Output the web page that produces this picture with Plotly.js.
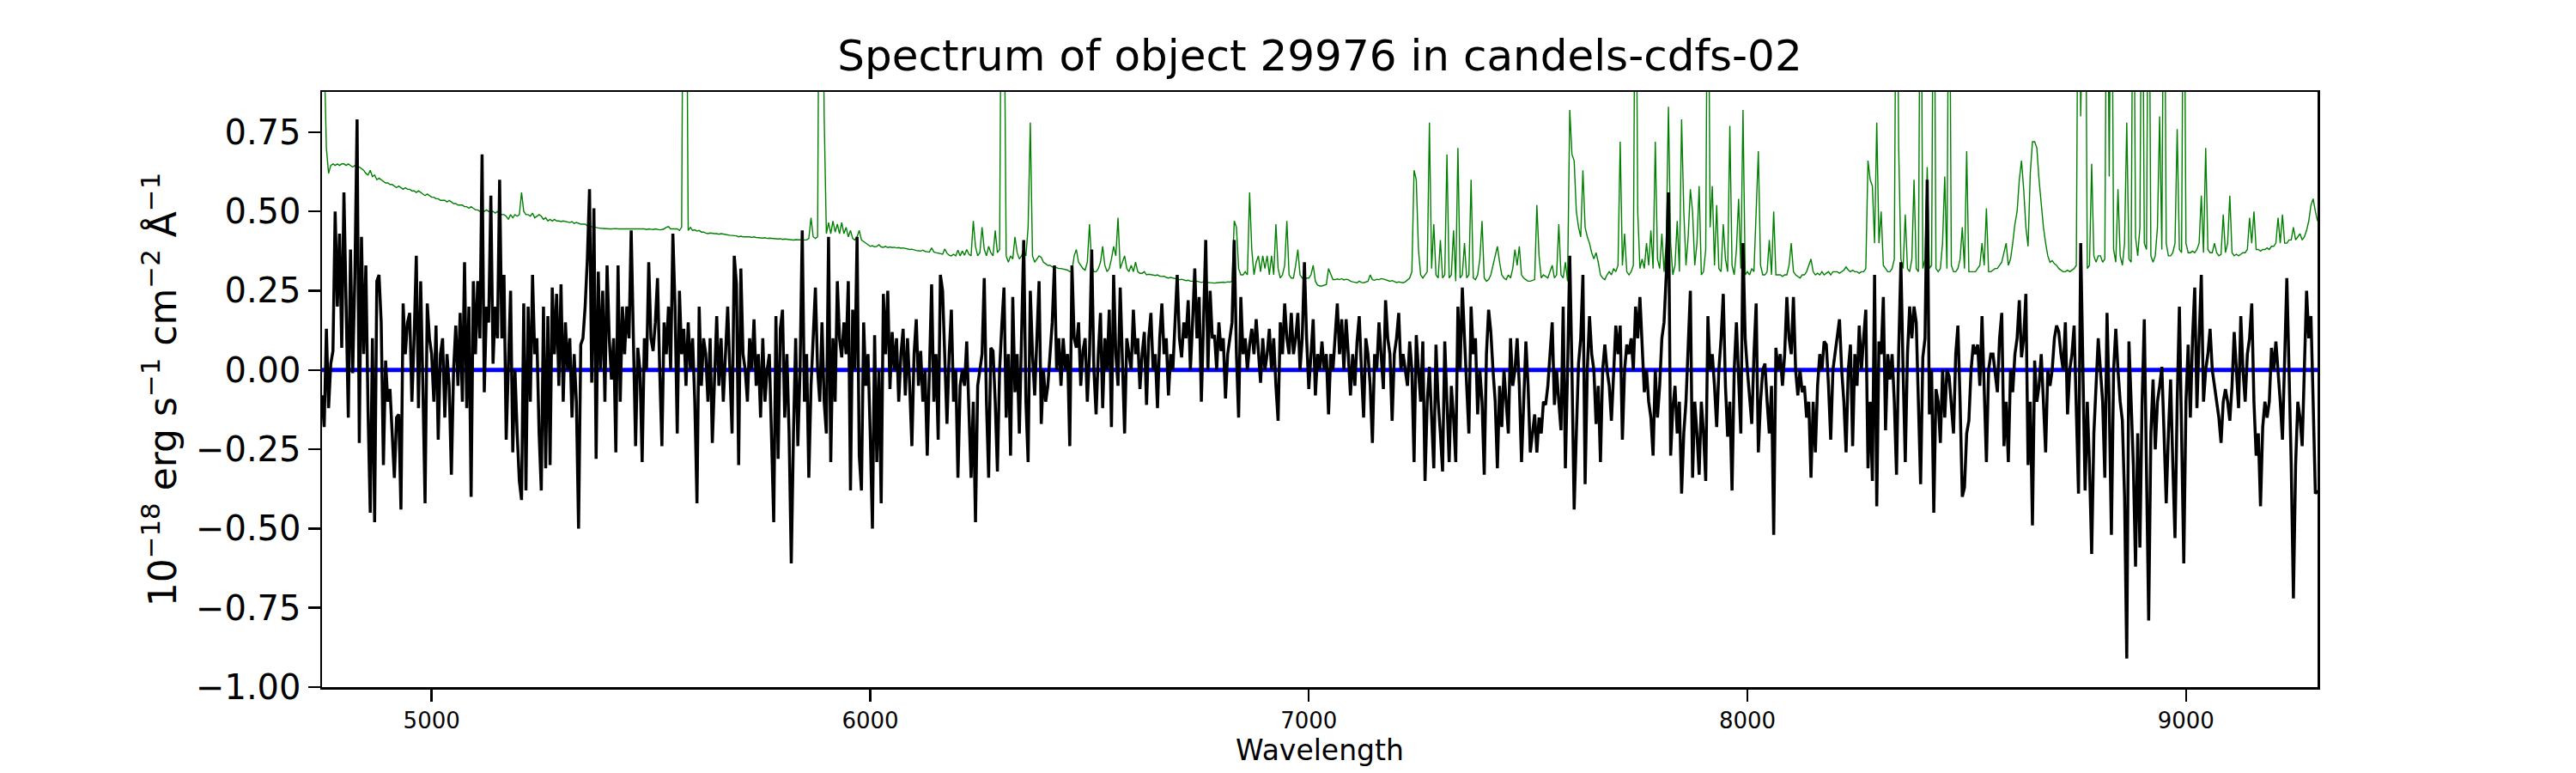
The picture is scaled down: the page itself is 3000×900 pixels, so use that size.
<!DOCTYPE html>
<html>
<head>
<meta charset="utf-8">
<script src="https://cdn.plot.ly/plotly-3.0.1.min.js"></script>
<style>html,body{margin:0;padding:0;background:#fff}</style>
</head>
<body>
<div id="spectrum" style="width:3000px;height:900px"></div>
<script>
// wavelength grid of the binned spectrum (Angstrom)
var wavelengthStart = 4750;
var wavelengthStep = 5;

// flux, 1e-18 erg/s/cm2/A, one row per 100 A
var flux = [
  -0.08,-0.18,0.13,-0.12,0.02,0.06,0.5,0.2,0.43,0.07,0.56,0.2,-0.15,0.38,-0.01,0.3,0.79,-0.23,0.42,0.05,
  0.33,-0.13,-0.45,0.1,-0.48,0.28,0.3,0.15,-0.3,0.03,-0.1,-0.06,-0.2,-0.34,-0.15,-0.14,-0.44,0.21,0.05,0.15,
  0.18,-0.1,0.1,0.36,-0.12,0.28,-0.05,-0.42,0.21,0.1,0.05,-0.1,0.14,-0.22,0.05,0.1,-0.15,0.05,-0.05,-0.33,
  0,0.14,-0.05,0.18,-0.1,0.34,-0.12,0.2,-0.4,0.28,0.05,0.28,0.1,0.68,-0.07,0.2,0.15,0.55,0.02,0.2,
  0.1,0.6,0.1,0.3,-0.22,0.05,0.25,-0.26,0,-0.2,-0.35,-0.41,0.21,-0.38,0.2,-0.1,0.3,0.05,0.1,-0.2,
  -0.38,0.2,-0.31,0.17,-0.3,0.26,0.05,0.24,-0.05,0.27,-0.1,0.15,0,0.1,-0.15,0.05,-0.1,-0.5,0.08,0.1,
  0.2,0.35,0.57,-0.04,0.51,-0.28,0.31,0,0.25,-0.1,0.33,0.1,-0.03,0.1,-0.26,0.33,-0.1,0.2,0.05,0.2,
  0.1,0.44,0.1,-0.24,0.07,0,-0.29,0.1,0,0.34,0.1,0.06,0.15,0.29,0,-0.24,0.15,0.05,0.2,0,
  0.43,0.2,-0.2,0.25,0.05,0.13,-0.05,0.15,0,0.1,-0.1,-0.42,0.2,-0.05,0.1,0.05,-0.1,0.1,-0.23,0,
  0.17,-0.05,0.1,-0.1,0.05,0.2,0,-0.2,0.36,0.27,-0.3,0.32,0.05,0,-0.1,0.1,0,0.16,-0.05,0.05,
  -0.15,0.1,-0.1,0,0.05,-0.2,-0.48,0.17,-0.28,0.13,0.19,-0.15,0.05,-0.2,-0.61,-0.2,0.1,-0.24,0,0.44,
  -0.1,0.05,-0.34,-0.05,0.1,0.26,0,-0.1,0.15,-0.1,-0.2,0.42,-0.29,0.1,-0.1,0.28,0.1,0.04,0.15,0.05,
  0.28,-0.38,0.19,0,0.42,-0.27,-0.38,0.15,-0.05,0.05,-0.2,-0.5,0.11,-0.29,0,-0.42,0.24,0.05,0.25,-0.06,
  0.12,0,0.1,-0.1,0.05,0.13,-0.08,0.1,-0.05,-0.24,0.05,0.16,-0.05,0.06,-0.1,0,-0.27,0.05,0.27,-0.1,
  0.05,-0.22,0.3,0.25,0,-0.17,0.05,0.19,-0.1,0,-0.34,-0.05,0,-0.05,0.09,-0.1,-0.34,-0.1,-0.48,-0.05,
  0,0.05,0.29,-0.1,-0.34,0.07,0.06,-0.1,-0.32,0,0.14,0.26,-0.15,0.05,-0.27,0.23,-0.07,0.05,-0.2,0.1,
  0.41,-0.1,-0.29,0.25,0.05,-0.08,0.1,0.28,-0.17,0,-0.1,-0.05,0.05,0.15,0.33,0,0.1,-0.05,0.1,0,
  0.05,-0.24,0.33,0.1,0.07,0.15,-0.05,0.06,0.1,-0.1,0.05,0.38,0,-0.14,0.05,0.18,-0.12,0.1,0,0.19,
  -0.18,0.3,0.05,-0.05,0.26,0,-0.2,0.1,0.05,0,0.19,0.05,0.1,-0.06,0.05,0.12,-0.11,0.1,0.18,0,
  0.05,-0.12,0.1,0.21,0.05,0.1,-0.08,0.05,0,0.15,0.3,0.1,0.04,0.15,0.1,0.22,0,0.15,0.32,0.1,
  0.23,-0.1,0.15,0.41,0,0.25,0.1,0.11,0,0.15,0.06,0.1,-0.09,0.05,0.1,0.15,0.41,0.05,-0.15,0.23,
  0.05,0.1,0,0.08,0.13,0.05,0.16,0.05,-0.04,0.1,0,0.05,0.13,0,0.1,-0.05,-0.16,0.15,0.05,0.21,
  0.1,0.05,0.18,0.05,0.1,0.18,0,0.1,0.34,0.1,-0.06,0.05,0.16,-0.08,0.05,0,0.09,0,0.05,-0.14,
  0.05,0,0.1,0.21,0.05,0.16,0,0.16,0.05,-0.08,0.05,-0.05,0.09,0.17,0,-0.15,0.1,0.05,-0.05,-0.23,
  0.05,0,0.15,0.05,-0.06,0.22,0.1,0.05,-0.16,0.05,0.1,0.18,0,0.05,0,-0.05,0.09,0,-0.29,0.11,
  0,-0.1,0.09,-0.35,-0.1,0.01,-0.15,-0.31,0.08,-0.1,-0.2,-0.32,0.09,-0.1,-0.29,-0.05,-0.15,-0.29,0.2,0,
  0.26,0.1,-0.05,-0.2,0.2,0.05,0.1,-0.14,0,-0.1,-0.33,0.05,0.19,0.12,0,-0.1,-0.31,-0.05,-0.18,0,
  -0.1,-0.2,0.1,-0.05,0,0.1,-0.05,-0.29,-0.1,0.09,-0.05,-0.26,-0.2,-0.14,-0.26,-0.15,-0.2,-0.1,-0.11,-0.05,
  0.05,0.15,-0.11,0,-0.1,-0.19,0.2,-0.31,0,0.36,0,-0.44,-0.2,0.02,0.1,0.3,-0.36,0,0.17,0.05,
  0,-0.17,-0.05,-0.29,0,0.08,0,-0.05,-0.16,0,0.14,0.05,0.14,-0.22,0,0.08,0.05,0.1,0,0.2,
  0.1,0.23,0.05,-0.07,0,-0.1,-0.15,-0.27,0,-0.15,-0.05,0.1,0.15,0.3,0.56,-0.27,-0.12,-0.05,-0.2,-0.1,
  -0.39,-0.2,-0.1,0.1,0.25,-0.34,-0.1,-0.2,-0.33,-0.1,-0.2,-0.35,0.17,0,0.05,-0.05,-0.18,0,0.1,0.24,
  -0.05,-0.21,-0.1,-0.38,0,0.15,0,-0.2,0.4,0.1,0,-0.1,-0.17,0.05,0.21,-0.26,-0.1,0,0.02,-0.1,
  -0.2,-0.05,-0.52,0.07,0,0.05,-0.05,0.05,0.23,0.1,0.05,0.23,0,-0.08,0,-0.07,-0.05,-0.15,-0.1,-0.34,
  -0.1,-0.26,-0.05,0.05,0,0.09,0.08,-0.05,-0.22,0,0.05,0.1,0.16,0,-0.1,-0.26,0,0.08,-0.24,0.05,
  -0.05,0.14,0,0.1,0.19,-0.31,-0.1,-0.35,0.3,-0.43,0.09,0.05,0.23,-0.19,0.05,-0.03,0.05,-0.1,-0.33,0.06,
  0.34,0,-0.29,0.05,0.2,0.1,0.2,0.15,-0.1,-0.36,0.04,0.1,0.6,-0.14,0,-0.45,-0.06,-0.1,-0.23,0,
  -0.15,0,-0.02,-0.1,-0.2,0.05,0.14,-0.1,-0.4,-0.37,-0.2,-0.16,0,0.08,0.05,0.08,-0.05,0.17,-0.05,-0.29,
  0,0.05,0.05,-0.02,-0.07,0.1,0.18,-0.24,-0.1,-0.29,0,-0.07,0.05,0.1,0.22,0.04,0.1,0.24,-0.3,-0.1,
  -0.49,0.03,-0.1,-0.05,0.05,-0.1,-0.26,0,-0.05,0,0.1,0.14,0.12,0.05,0,0.15,-0.14,0,0.05,0.14,
  -0.1,-0.39,0.4,0,-0.38,-0.1,-0.3,-0.58,-0.2,-0.05,0.1,0,-0.1,-0.34,0.18,-0.1,-0.52,0,0.13,0,
  -0.1,-0.16,-0.4,-0.91,0.09,-0.1,-0.3,-0.62,-0.2,-0.56,-0.1,0.16,-0.3,-0.79,-0.2,-0.03,-0.25,-0.1,-0.05,0.01,
  -0.2,-0.42,-0.2,-0.03,-0.3,-0.53,-0.1,0.2,-0.2,-0.61,-0.1,0.08,-0.15,0.1,0.26,-0.12,0.1,0.3,-0.1,0,
  0.05,0.13,0,-0.05,-0.1,-0.15,-0.23,-0.1,-0.06,-0.1,-0.16,-0.05,0.12,0,-0.12,0.17,0,-0.1,0.05,0.1,
  0.21,-0.1,-0.27,-0.2,-0.43,-0.18,-0.1,-0.15,-0.1,0.07,0,0.09,0,-0.1,-0.22,0,0.29,0,-0.3,-0.72,
  -0.3,-0.1,-0.15,-0.24,0,0.25,0.1,0.17,-0.1,-0.39,-0.38
];

// flux uncertainty on the same grid (sky lines go off the top)
var fluxError = [
  1.5,1.0,0.7,0.62,0.645,0.65,0.645,0.65,0.645,0.65,0.65,0.645,0.65,0.645,0.64,0.645,0.64,0.64,0.635,0.63,
  0.62,0.615,0.63,0.61,0.615,0.6,0.605,0.6,0.595,0.59,0.59,0.585,0.585,0.58,0.575,0.58,0.575,0.57,0.575,0.57,
  0.57,0.565,0.565,0.56,0.565,0.56,0.555,0.55,0.555,0.55,0.545,0.545,0.54,0.54,0.535,0.535,0.535,0.53,0.535,0.53,
  0.525,0.525,0.52,0.52,0.52,0.515,0.515,0.51,0.515,0.51,0.505,0.505,0.5,0.505,0.5,0.505,0.5,0.5,0.5,0.495,
  0.5,0.495,0.49,0.49,0.485,0.475,0.49,0.48,0.49,0.485,0.49,0.56,0.5,0.49,0.49,0.485,0.495,0.48,0.485,0.49,
  0.485,0.475,0.48,0.47,0.475,0.47,0.475,0.47,0.47,0.468,0.47,0.468,0.465,0.465,0.468,0.462,0.465,0.462,0.46,0.46,
  0.46,0.455,0.455,0.452,0.45,0.45,0.448,0.447,0.446,0.445,0.445,0.445,0.445,0.446,0.446,0.445,0.445,0.446,0.445,0.445,
  0.445,0.445,0.446,0.444,0.445,0.445,0.444,0.445,0.443,0.445,0.444,0.443,0.445,0.443,0.442,0.443,0.445,0.45,0.452,0.445,
  0.445,0.443,0.445,0.44,0.45,1.8,1.6,0.44,0.45,0.44,0.442,0.438,0.44,0.435,0.435,0.432,0.43,0.432,0.43,0.43,
  0.43,0.428,0.43,0.428,0.427,0.426,0.425,0.424,0.425,0.423,0.42,0.422,0.42,0.42,0.421,0.42,0.418,0.42,0.418,0.417,
  0.418,0.416,0.417,0.415,0.416,0.415,0.414,0.415,0.413,0.414,0.412,0.413,0.412,0.413,0.411,0.41,0.411,0.41,0.41,0.41,
  0.41,0.41,0.415,0.48,0.42,0.415,0.42,1.8,1.6,0.8,0.43,0.465,0.43,0.47,0.435,0.46,0.43,0.465,0.43,0.45,
  0.42,0.44,0.415,0.41,0.42,0.44,0.41,0.405,0.4,0.395,0.39,0.392,0.388,0.39,0.395,0.388,0.387,0.39,0.386,0.388,
  0.386,0.387,0.385,0.386,0.384,0.385,0.383,0.382,0.38,0.381,0.378,0.377,0.376,0.375,0.378,0.374,0.373,0.372,0.385,0.372,
  0.37,0.368,0.368,0.365,0.382,0.368,0.362,0.36,0.365,0.36,0.378,0.36,0.375,0.362,0.38,0.365,0.36,0.47,0.39,0.36,
  0.37,0.45,0.38,0.36,0.39,0.37,0.36,0.44,0.37,0.38,1.6,1.3,0.36,0.34,0.36,0.35,0.42,0.37,0.35,0.36,
  0.38,0.36,0.45,0.78,0.36,0.34,0.35,0.36,0.355,0.34,0.335,0.33,0.33,0.325,0.325,0.322,0.32,0.32,0.318,0.315,
  0.315,0.31,0.312,0.36,0.38,0.34,0.33,0.32,0.315,0.34,0.46,0.33,0.31,0.31,0.32,0.34,0.39,0.33,0.31,0.32,
  0.35,0.39,0.36,0.48,0.32,0.34,0.36,0.32,0.31,0.33,0.31,0.34,0.31,0.305,0.305,0.31,0.3,0.302,0.3,0.3,
  0.298,0.3,0.296,0.295,0.296,0.292,0.29,0.292,0.29,0.288,0.287,0.285,0.286,0.283,0.282,0.283,0.28,0.28,0.278,0.28,
  0.277,0.276,0.278,0.275,0.276,0.275,0.276,0.274,0.275,0.276,0.275,0.277,0.276,0.278,0.277,0.28,0.47,0.45,0.32,0.3,
  0.3,0.31,0.3,0.56,0.38,0.3,0.34,0.36,0.31,0.36,0.32,0.36,0.3,0.36,0.3,0.46,0.32,0.29,0.3,0.33,
  0.47,0.3,0.29,0.29,0.33,0.38,0.3,0.29,0.285,0.29,0.29,0.3,0.33,0.28,0.268,0.265,0.265,0.267,0.27,0.32,
  0.3,0.285,0.285,0.287,0.285,0.288,0.284,0.286,0.285,0.28,0.278,0.276,0.275,0.28,0.276,0.275,0.277,0.28,0.3,0.285,
  0.283,0.286,0.285,0.288,0.287,0.285,0.283,0.28,0.282,0.278,0.276,0.278,0.276,0.275,0.278,0.285,0.29,0.31,0.63,0.6,
  0.38,0.3,0.29,0.3,0.31,0.78,0.32,0.46,0.3,0.29,0.41,0.29,0.3,0.68,0.29,0.3,0.44,0.28,0.7,0.29,
  0.3,0.4,0.29,0.3,0.6,0.29,0.285,0.3,0.35,0.47,0.29,0.28,0.285,0.3,0.33,0.36,0.39,0.34,0.3,0.29,
  0.285,0.3,0.29,0.32,0.38,0.33,0.39,0.3,0.29,0.285,0.28,0.28,0.282,0.285,0.52,0.36,0.29,0.3,0.295,0.29,
  0.31,0.33,0.29,0.3,0.46,0.3,0.29,0.34,0.28,0.82,0.68,0.66,0.5,0.45,0.42,0.63,0.45,0.42,0.4,0.37,
  0.35,0.37,0.34,0.3,0.29,0.285,0.3,0.31,0.3,0.32,0.31,0.33,0.72,0.33,0.43,0.31,0.3,0.31,0.33,1.6,
  0.5,0.32,0.35,0.32,0.4,0.33,0.44,0.32,0.72,0.35,0.32,0.43,0.31,0.4,0.83,0.4,0.3,0.33,0.47,0.31,
  0.79,0.5,0.33,0.42,0.57,0.5,0.33,0.4,0.58,0.3,0.31,0.38,1.6,0.45,0.58,0.33,0.52,0.32,0.31,0.46,
  0.35,0.31,0.77,0.33,0.3,0.38,0.54,0.32,0.82,0.3,0.31,0.3,0.32,0.31,0.5,0.69,0.33,0.3,0.3,0.31,
  0.41,0.3,0.5,0.3,0.3,0.3,0.295,0.3,0.3,0.33,0.4,0.31,0.3,0.295,0.29,0.3,0.3,0.31,0.33,0.35,
  0.31,0.3,0.305,0.3,0.31,0.3,0.305,0.31,0.3,0.31,0.31,0.31,0.305,0.31,0.315,0.325,0.315,0.31,0.315,0.31,
  0.31,0.305,0.31,0.31,0.32,0.66,0.6,0.58,0.4,0.78,0.4,0.5,0.33,0.32,0.31,0.31,0.32,0.35,1.6,0.7,
  0.35,0.32,0.49,0.32,0.31,0.35,0.6,0.32,0.31,1.6,0.32,0.35,0.64,0.32,0.33,1.6,0.32,0.31,0.32,0.4,
  0.61,0.32,1.6,0.33,0.31,0.31,0.32,0.35,0.45,0.32,0.69,0.31,0.31,0.31,0.31,0.32,0.33,0.4,0.33,0.51,
  0.31,0.31,0.315,0.32,0.32,0.33,0.34,0.37,0.4,0.33,0.35,0.4,0.46,0.5,0.6,0.66,0.57,0.45,0.39,0.62,
  0.72,0.72,0.7,0.6,0.52,0.45,0.4,0.36,0.34,0.345,0.335,0.33,0.32,0.315,0.31,0.31,0.315,0.31,0.315,0.32,
  0.33,1.6,0.8,1.6,1.6,0.32,0.33,0.65,0.36,0.34,0.36,0.36,0.34,0.35,1.6,0.61,1.6,0.38,0.34,0.57,
  0.36,0.33,0.4,0.78,0.35,0.34,1.6,0.42,0.36,0.45,1.6,0.4,0.38,1.6,0.36,0.34,0.36,0.45,0.8,0.38,
  1.6,0.4,0.36,0.36,0.37,0.4,0.76,0.38,0.37,1.6,0.4,0.37,0.37,0.375,0.37,0.38,0.4,0.55,0.37,0.7,
  0.38,0.37,0.37,0.4,0.37,0.36,0.365,0.49,0.37,0.4,0.55,0.37,0.36,0.365,0.36,0.365,0.37,0.37,0.38,0.48,
  0.4,0.5,0.38,0.38,0.375,0.38,0.38,0.385,0.38,0.39,0.39,0.4,0.48,0.4,0.49,0.4,0.4,0.41,0.41,0.45,
  0.41,0.42,0.43,0.41,0.42,0.44,0.47,0.52,0.54,0.5,0.47
];

var zeroLevel = 0;
var xTicks = [5000, 6000, 7000, 8000, 9000];
var yTicks = [-1.0, -0.75, -0.5, -0.25, 0, 0.25, 0.5, 0.75];

var errTrace = {
  type: 'scatter', mode: 'lines',
  x0: wavelengthStart, dx: wavelengthStep, y: fluxError,
  line: {color: '#008000', width: 1.4},
  hoverinfo: 'skip'
};
var fluxTrace = {
  type: 'scatter', mode: 'lines',
  x0: wavelengthStart, dx: wavelengthStep, y: flux,
  line: {color: '#000000', width: 3.5},
  hoverinfo: 'skip'
};

var axisStyle = {
  showgrid: false, zeroline: false,
  showline: true, mirror: true, linecolor: 'black', linewidth: 2.5,
  ticks: 'outside', ticklen: 14, tickwidth: 2.5, tickcolor: 'black'
};

var layout = {
  width: 3000, height: 900,
  margin: {l: 375, r: 301, t: 107, b: 100},
  paper_bgcolor: 'white', plot_bgcolor: 'white',
  showlegend: false,
  font: {family: 'DejaVu Sans', color: 'black'},
  title: {
    text: 'Spectrum of object 29976 in candels-cdfs-02',
    font: {size: 50},
    x: 0.5, xref: 'paper', y: 0.928, yref: 'container', yanchor: 'middle'
  },
  xaxis: Object.assign({}, axisStyle, {
    range: [4750, 9300],
    tickvals: xTicks,
    tickfont: {size: 26},
    title: {text: 'Wavelength', font: {size: 33}, standoff: 6}
  }),
  yaxis: Object.assign({}, axisStyle, {
    range: [-1, 0.877],
    tickvals: yTicks,
    tickformat: '.2f',
    tickfont: {size: 40},
    title: {text: '10<sup>\u221218</sup> erg s<sup>\u22121</sup> cm<sup>\u22122</sup> \u00c5<sup>\u22121</sup>', font: {size: 44}, standoff: 9}
  }),
  shapes: [{
    type: 'line', layer: 'below',
    xref: 'paper', x0: 0, x1: 1,
    yref: 'y', y0: zeroLevel, y1: zeroLevel,
    line: {color: '#0000ff', width: 5}
  }]
};

Plotly.newPlot('spectrum', [errTrace, fluxTrace], layout, {staticPlot: true, displayModeBar: false});
</script>
</body>
</html>
